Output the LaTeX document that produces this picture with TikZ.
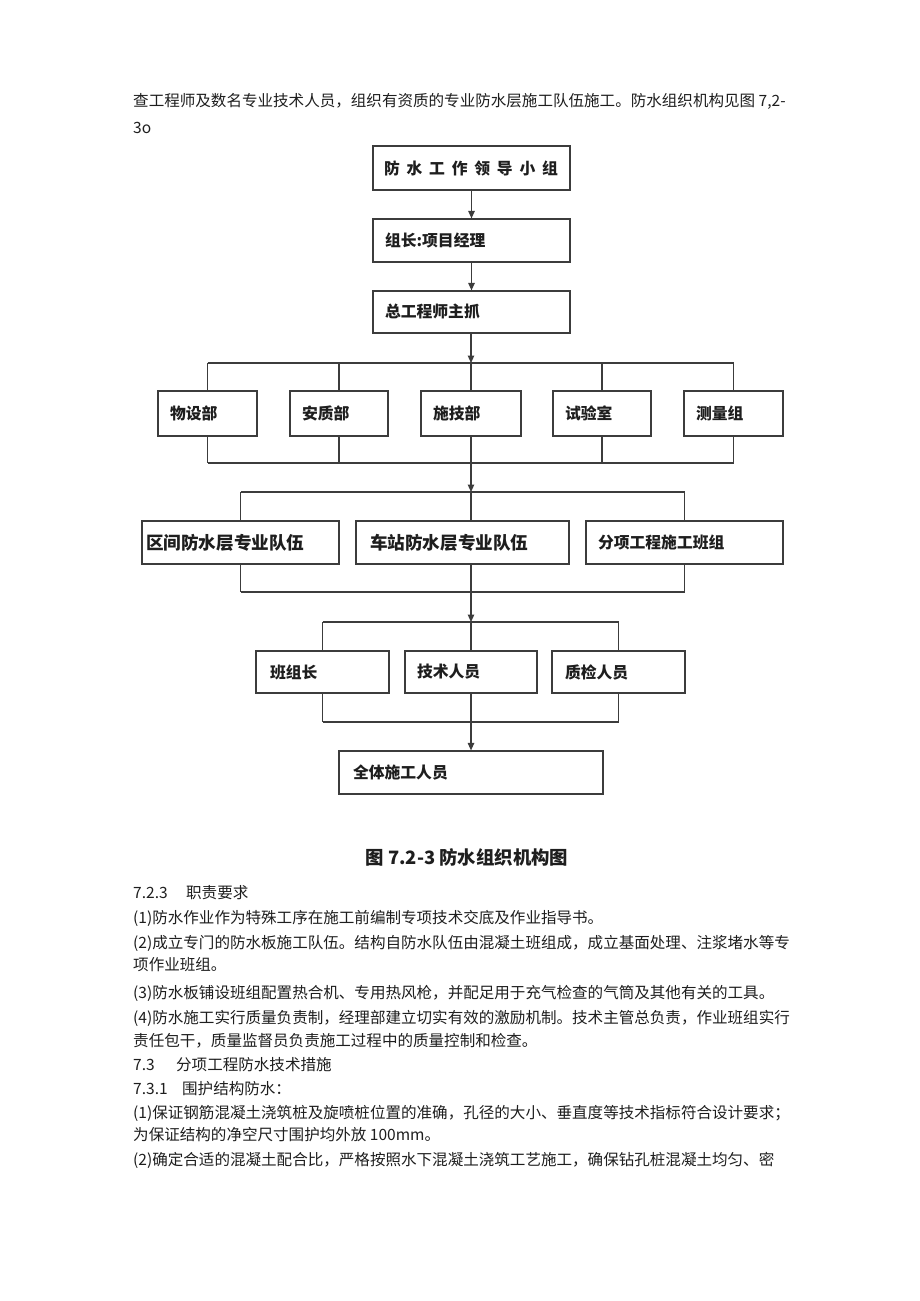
\documentclass[tikz,border=0pt]{standalone}
\usepackage{fontspec}
\setmainfont{Noto Sans CJK SC}
\usetikzlibrary{arrows.meta}
\definecolor{ln}{HTML}{3C3C3C}
\definecolor{tx}{HTML}{1E1E1E}
\tikzset{
  box/.style={draw=ln, line width=1.2pt, align=left, inner ysep=0pt, text=tx,
    font=\fontsize{15.8}{18}\selectfont\bfseries},
  bxo/.style n args={4}{minimum width=#1pt, minimum height=#2pt, inner xsep=#3pt, text width=#4pt},
  body/.style={anchor=west, text=tx, inner sep=0pt, font=\fontsize{15.55}{18}\selectfont},
  conn/.style={draw=ln, line width=1.1pt},
  arr/.style={conn, -{Triangle[width=6.5pt,length=7.5pt]}},
}
\begin{document}
\begin{tikzpicture}[x=1pt,y=-1pt]
\useasboundingbox (0,0) rectangle (920,1301);
\fill[white] (0,0) rectangle (920,1301);

% intro text
\node[body] (t1) at (133,101) {查工程师及数名专业技术人员，组织有资质的专业防水层施工队伍施工。防水组织机构见图 7,2-};
\node[body] (t2) at (133,128) {3o};

% top chain
\node[box, bxo={197}{44}{11}{175}] (b1) at (471.5,168) {防\hspace{6.8pt}水\hspace{6.8pt}工\hspace{6.8pt}作\hspace{6.8pt}领\hspace{6.8pt}导\hspace{6.8pt}小\hspace{6.8pt}组};
\node[box, bxo={197}{43}{12}{173}] (b2) at (471.5,240.5) {组长:项目经理};
\node[box, bxo={197}{42}{12}{173}] (b3) at (471.5,312) {总工程师主抓};
\draw[arr] (b1.south) -- (b2.north);
\draw[arr] (b2.south) -- (b3.north);

% row 2
\node[box, bxo={99}{45}{12}{75}] (r2a) at (207.5,413.5) {物设部};
\node[box, bxo={98}{45}{12}{74}] (r2b) at (339,413.5) {安质部};
\node[box, bxo={100}{45}{12}{76}] (r2c) at (471,413.5) {施技部};
\node[box, bxo={98}{45}{12}{74}] (r2d) at (602,413.5) {试验室};
\node[box, bxo={99}{45}{12}{75}] (r2e) at (733.5,413.5) {测量组};
\coordinate (j1) at (471,363);
\coordinate (j2) at (471,463);
\coordinate (u1L) at (207.5,363); \coordinate (u1R) at (733.5,363);
\coordinate (u2L) at (207.5,463); \coordinate (u2R) at (733.5,463);
\draw[arr] (b3.south -| j1) -- (j1);
\draw[conn] (u1L) -- (u1R);
\draw[conn] (u2L) -- (u2R);
\foreach \n in {r2a,r2b,r2c,r2d,r2e}{
  \draw[conn] (\n.north |- u1L) -- (\n.north);
  \draw[conn] (\n.south) -- (\n.south |- u2L);
}

% row 3
\node[box, bxo={197}{43}{4}{189}, font=\fontsize{17.6}{20}\selectfont\bfseries] (r3a) at (240.5,542.5) {区间防水层专业队伍};
\node[box, bxo={213}{43}{14}{185}, font=\fontsize{17.6}{20}\selectfont\bfseries] (r3b) at (462.5,542.5) {车站防水层专业队伍};
\node[box, bxo={197}{43}{12}{173}] (r3c) at (684.5,542.5) {分项工程施工班组};
\coordinate (j3) at (471,492);
\coordinate (j4) at (471,592);
\coordinate (u3L) at (240.5,492); \coordinate (u3R) at (684.5,492);
\coordinate (u4L) at (240.5,592); \coordinate (u4R) at (684.5,592);
\draw[arr] (j2) -- (j3);
\draw[conn] (u3L) -- (u3R);
\draw[conn] (u4L) -- (u4R);
\draw[conn] (r3a.north |- u3L) -- (r3a.north);
\draw[conn] (r3a.south) -- (r3a.south |- u4L);
\draw[conn] (j3) -- (r3b.north -| j3);
\draw[conn] (r3b.south -| j4) -- (j4);
\draw[conn] (r3c.north |- u3L) -- (r3c.north);
\draw[conn] (r3c.south) -- (r3c.south |- u4L);

% row 4
\node[box, bxo={133}{42}{14}{105}] (r4a) at (322.5,672) {班组长};
\node[box, bxo={132}{42}{12}{108}] (r4b) at (471,672) {技术人员};
\node[box, bxo={133}{42}{13}{107}] (r4c) at (618.5,672) {质检人员};
\coordinate (j5) at (471,622);
\coordinate (j6) at (471,722);
\coordinate (u5L) at (322.5,622); \coordinate (u5R) at (618.5,622);
\coordinate (u6L) at (322.5,722); \coordinate (u6R) at (618.5,722);
\draw[arr] (j4) -- (j5);
\draw[conn] (u5L) -- (u5R);
\draw[conn] (u6L) -- (u6R);
\foreach \n in {r4a,r4b,r4c}{
  \draw[conn] (\n.north |- u5L) -- (\n.north);
  \draw[conn] (\n.south) -- (\n.south |- u6L);
}

% final
\node[box, bxo={264}{43}{14}{236}] (fin) at (471,772.5) {全体施工人员};
\draw[arr] (j6) -- (fin.north);

% caption
\node[text=tx, inner sep=0pt, font=\fontsize{18.4}{21}\selectfont\bfseries] (cap) at (467,857) {图 7.2-3 防水组织机构图};

% body text
\node[body] (p1) at (133,893) {\makebox[53pt][l]{7.2.3}职责要求};
\node[body] (p2) at (133,918) {(1)防水作业作为特殊工序在施工前编制专项技术交底及作业指导书。};
\node[body] (p3) at (133,943) {(2)成立专门的防水板施工队伍。结构自防水队伍由混凝土班组成，成立基面处理、注浆堵水等专};
\node[body] (p4) at (133,965) {项作业班组。};
\node[body] (p5) at (133,993) {(3)防水板铺设班组配置热合机、专用热风枪，并配足用于充气检查的气筒及其他有关的工具。};
\node[body] (p6) at (133,1018) {(4)防水施工实行质量负责制，经理部建立切实有效的激励机制。技术主管总负责，作业班组实行};
\node[body] (p7) at (133,1041) {责任包干，质量监督员负责施工过程中的质量控制和检查。};
\node[body] (p8) at (133,1065) {\makebox[43pt][l]{7.3}分项工程防水技术措施};
\node[body] (p9) at (133,1089) {\makebox[49pt][l]{7.3.1}围护结构防水：};
\node[body] (p10) at (133,1113) {(1)保证钢筋混凝土浇筑桩及旋喷桩位置的准确，孔径的大小、垂直度等技术指标符合设计要求；};
\node[body] (p11) at (133,1135) {为保证结构的净空尺寸围护均外放 100mm。};
\node[body] (p12) at (133,1160) {(2)确定合适的混凝土配合比，严格按照水下混凝土浇筑工艺施工，确保钻孔桩混凝土均匀、密};
\end{tikzpicture}
\end{document}
